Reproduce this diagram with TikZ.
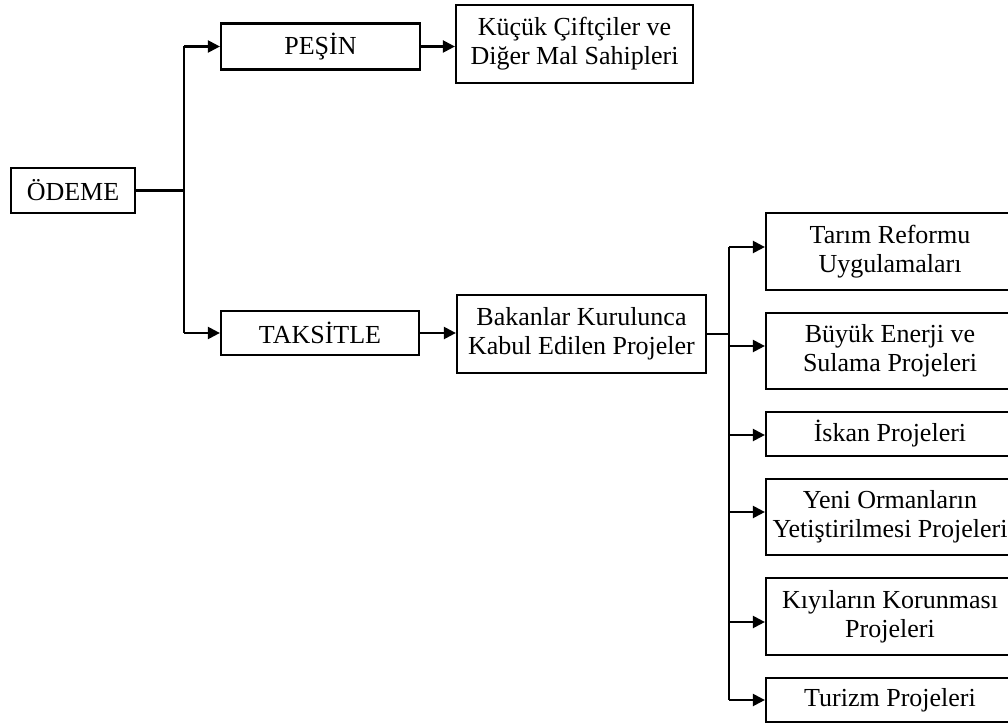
\documentclass[tikz,border=0pt]{standalone}
\usepackage{fontspec}
\setmainfont{Liberation Serif}
\usetikzlibrary{arrows.meta}
\begin{document}
\begin{tikzpicture}[x=1bp,y=-1bp,
  box/.style={draw,line width=2.2bp,inner sep=0pt,align=center,
    font=\fontsize{26bp}{29bp}\selectfont},
  conn/.style={line width=2.2bp},
  arr/.style={line width=2.2bp,-{Triangle[length=12bp,width=12bp]}}]
\path[use as bounding box] (0,0) rectangle (1008,724);
\clip (0,0) rectangle (1008,724);
\node[box,minimum width=124bp,minimum height=45bp] (odeme) at (73,190.5) {ÖDEME};
\node[box,minimum width=199bp,minimum height=46bp] (pesin) at (320.5,46.5) {PEŞİN};
\node[box,minimum width=237bp,minimum height=78bp] (kucuk) at (574.5,44) {Küçük Çiftçiler ve\\Diğer Mal Sahipleri};
\node[box,minimum width=198bp,minimum height=44bp] (taksitle) at (320,333) {TAKSİTLE};
\node[box,minimum width=249bp,minimum height=78bp] (bakan) at (581.5,334) {Bakanlar Kurulunca\\Kabul Edilen Projeler};
\node[box,minimum width=248bp,minimum height=77bp] (tarim) at (890,251.5) {Tarım Reformu\\Uygulamaları};
\node[box,minimum width=248bp,minimum height=76bp] (buyuk) at (890,351) {Büyük Enerji ve\\Sulama Projeleri};
\node[box,minimum width=248bp,minimum height=44bp] (iskan) at (890,434) {İskan Projeleri};
\node[box,minimum width=248bp,minimum height=76bp] (yeni) at (890,517) {Yeni Ormanların\\Yetiştirilmesi Projeleri};
\node[box,minimum width=248bp,minimum height=77bp] (kiyi) at (890,616.5) {Kıyıların Korunması\\Projeleri};
\node[box,minimum width=248bp,minimum height=44bp] (turizm) at (890,700) {Turizm Projeleri};
% first tree
\coordinate (j1) at (184,190.5);
\coordinate (p1) at (184,46.5);
\coordinate (p2) at (184,333);
\draw[conn] (odeme.east) -- (j1);
\draw[conn] (p1) -- (p2);
\draw[arr] (p1) -- (pesin.west);
\draw[arr] (p2) -- (taksitle.west);
\draw[arr] (pesin.east) -- (pesin.east -| kucuk.west);
\draw[arr] (taksitle.east) -- (taksitle.east -| bakan.west);
% second tree
\coordinate (j2) at (729,334);
\coordinate (a1) at (729,247);
\coordinate (a2) at (729,346);
\coordinate (a3) at (729,435);
\coordinate (a4) at (729,512);
\coordinate (a5) at (729,622);
\coordinate (a6) at (729,700);
\draw[conn] (bakan.east) -- (j2);
\draw[conn] (a1) -- (a6);
\draw[arr] (a1) -- (a1 -| tarim.west);
\draw[arr] (a2) -- (a2 -| buyuk.west);
\draw[arr] (a3) -- (a3 -| iskan.west);
\draw[arr] (a4) -- (a4 -| yeni.west);
\draw[arr] (a5) -- (a5 -| kiyi.west);
\draw[arr] (a6) -- (turizm.west);
\end{tikzpicture}
\end{document}
